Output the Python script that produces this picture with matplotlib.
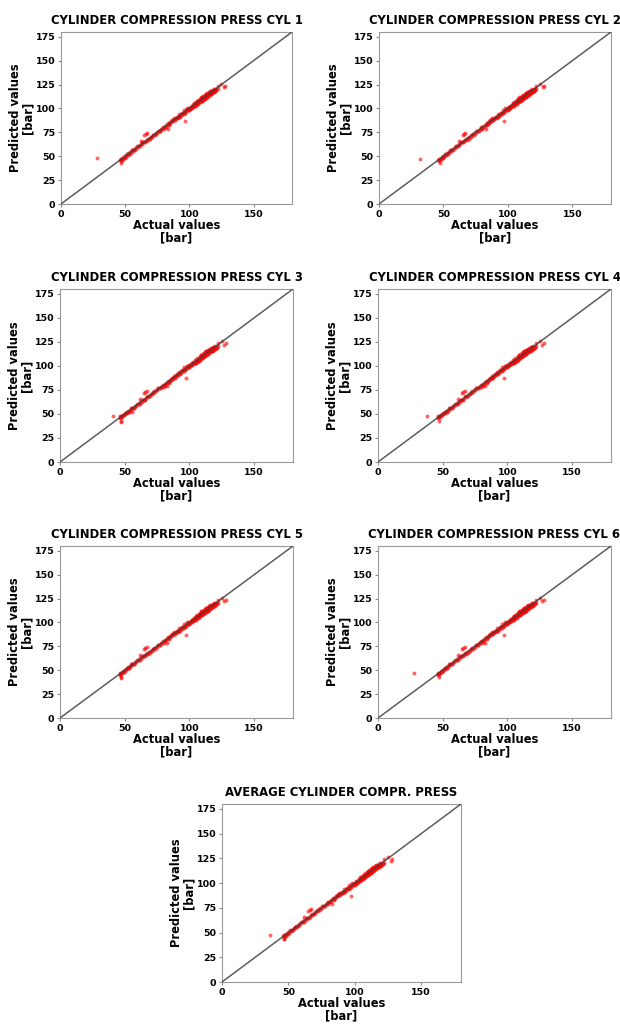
import numpy as np
import matplotlib
matplotlib.use("Agg")
import matplotlib.pyplot as plt

titles = ["CYLINDER COMPRESSION PRESS CYL 1", "CYLINDER COMPRESSION PRESS CYL 2",
          "CYLINDER COMPRESSION PRESS CYL 3", "CYLINDER COMPRESSION PRESS CYL 4",
          "CYLINDER COMPRESSION PRESS CYL 5", "CYLINDER COMPRESSION PRESS CYL 6",
          "AVERAGE CYLINDER COMPR. PRESS"]

# main band of points (nearly identical in all panels)
band_actual = [46, 46.5, 47, 48, 48.5, 49, 50, 50.5, 51, 52, 52.5, 53, 54, 55, 55.5, 56, 57, 58, 59, 60,
               61, 62, 63, 64, 65, 66, 67, 68, 69, 70, 71, 72, 73, 74, 75, 76, 77, 78, 79, 80,
               81, 82, 83, 84, 85, 85.5, 86, 87, 87.5, 88, 89, 89.5, 90, 91, 91.5, 92, 93, 93.5, 94, 95,
               95.5, 96, 97, 97.5, 98, 99, 99.5, 100, 100.5, 101, 101.5, 102, 102.5, 103, 103.5, 104, 104.5, 105, 105.5, 106,
               106.5, 107, 107.5, 108, 108.5, 109, 109.5, 110, 110.5, 111, 111.5, 112, 112.5, 113, 113.5, 114, 114.5, 115, 115.5, 116,
               116.5, 117, 117.5, 118, 118.5, 119, 119.5, 120, 121, 122]
band_pred = [46.5, 45.5, 47.5, 47, 49, 48.5, 50.5, 49.5, 51.5, 51.5, 53, 52.5, 54.5, 54.5, 56, 56.5, 56.5, 58.5, 58.5, 60.5,
             60.5, 62.5, 62.5, 64.5, 64.5, 66, 67.5, 67.5, 69, 70.5, 70.5, 72, 73.5, 74.5, 74.5, 76.5, 76.5, 78.5, 78.5, 80.5,
             80.5, 82.5, 82.5, 84.5, 84.5, 86.5, 85.5, 87.5, 86.5, 88.5, 88.5, 90.5, 89.5, 91.5, 90.5, 92.5, 92.5, 94.5, 93.5, 95.5,
             94.5, 96.5, 96.5, 98.5, 97.5, 99.5, 98.5, 100.5, 99.5, 101.5, 100.5, 102.5, 101.5, 103.5, 102.5, 104.5, 103.5, 105.5, 104.5, 106.5,
             105.5, 107.5, 106.5, 108.5, 107.5, 109.5, 108, 110.5, 109, 111.5, 110, 113, 111, 114, 112, 115, 113, 116, 114, 117,
             115, 117.5, 116, 118.5, 117, 119.5, 117.5, 119, 120, 120.5]

# second pass over the band, the other side of the line
band2_actual = [46.5, 47.5, 49.5, 51.5, 53.5, 55, 57.5, 59.5, 61.5, 63.5, 65.5, 67.5, 69.5, 71.5, 73.5, 75.5,
                77.5, 79.5, 81.5, 83.5, 84.5, 86.5, 88.5, 90.5, 92.5, 94.5, 96.5, 98.5, 100, 101, 102, 103,
                104, 105, 106, 107, 108, 109, 110, 111, 112, 113, 114, 115, 116, 117, 118, 119, 120, 121]
band2_pred = [47.5, 46.5, 48.5, 52.5, 52.5, 56, 56.5, 60.5, 60.5, 64.5, 64.5, 68.5, 68.5, 72.5, 72.5, 76.5,
              76.5, 80.5, 80.5, 84.5, 83.5, 87.5, 87.5, 91.5, 91.5, 95.5, 95.5, 99.5, 98.5, 102, 100.5, 104,
              102.5, 106.5, 104.5, 108.5, 106.5, 110.5, 108.5, 112.5, 110.5, 115, 112.5, 116.5, 115, 116, 117.5, 118, 118.5, 119]

# extra points that make the band thicker near the top
thick_actual = [104, 106, 108, 109, 110, 111, 112, 113, 114, 115, 116, 117, 118, 119, 120,
                105, 107, 110, 112, 114, 116, 118, 120, 96, 98, 92, 88, 84, 80]
thick_pred = [106, 108, 110, 111.5, 112, 113.5, 114.5, 115.5, 116.5, 117, 118, 118.5, 119.5, 120, 120.5,
              103, 105, 108, 110, 112, 114, 116, 118, 98.5, 100, 94, 90, 82.5, 78.5]

# outliers seen in every panel
out_actual = [47, 62, 65, 66, 67, 83, 97, 122, 125, 127, 128]
out_pred = [43, 66, 72, 73, 74, 79, 87, 124, 126, 122, 124]

# panel specific outliers
extra_actual = [[28], [32], [41, 47, 56], [38], [47], [28], [36, 47]]
extra_pred = [[48], [47], [48, 42, 52], [48], [42], [47], [48, 43]]

lims = [0, 180]
xticks = [0, 50, 100, 150]
yticks = [0, 25, 50, 75, 100, 125, 150, 175]

# axes boxes in pixels: left, top, right, bottom
boxes = [(61, 32, 292, 204), (379, 32, 611, 204),
         (60, 289, 293, 462), (378, 289, 611, 462),
         (60, 546, 293, 718), (378, 546, 611, 718),
         (222, 804, 461, 982)]

W, H = 620, 1024
fig = plt.figure(figsize=(W / 100, H / 100), dpi=100)

for i in range(7):
    l, t, r, b = boxes[i]
    ax = fig.add_axes([l / W, 1 - b / H, (r - l) / W, (b - t) / H])
    xs = band_actual + band2_actual + thick_actual + out_actual + extra_actual[i]
    ys = band_pred + band2_pred + thick_pred + out_pred + extra_pred[i]
    ax.scatter(xs, ys, s=8, c="red", marker="o", linewidths=0, alpha=0.6, zorder=2)
    ax.plot(lims, lims, color="#404040", lw=1.1, alpha=0.85, zorder=3)
    ax.set_xlim(lims)
    ax.set_ylim(lims)
    ax.set_xticks(xticks)
    ax.set_yticks(yticks)
    ax.set_title(titles[i], fontsize=8.4, fontweight="bold")
    ax.set_xlabel("Actual values\n[bar]", fontsize=8.3, fontweight="bold", labelpad=0, linespacing=0.95)
    ax.set_ylabel("Predicted values\n[bar]", fontsize=8.3, fontweight="bold", labelpad=1, linespacing=0.95)
    ax.tick_params(labelsize=6.8, length=2.5, pad=1.5, color="#888888")
    for lab in ax.get_xticklabels() + ax.get_yticklabels():
        lab.set_fontweight("bold")
    for sp in ax.spines.values():
        sp.set_color("#999999")

fig.savefig("out.png", dpi=100)
